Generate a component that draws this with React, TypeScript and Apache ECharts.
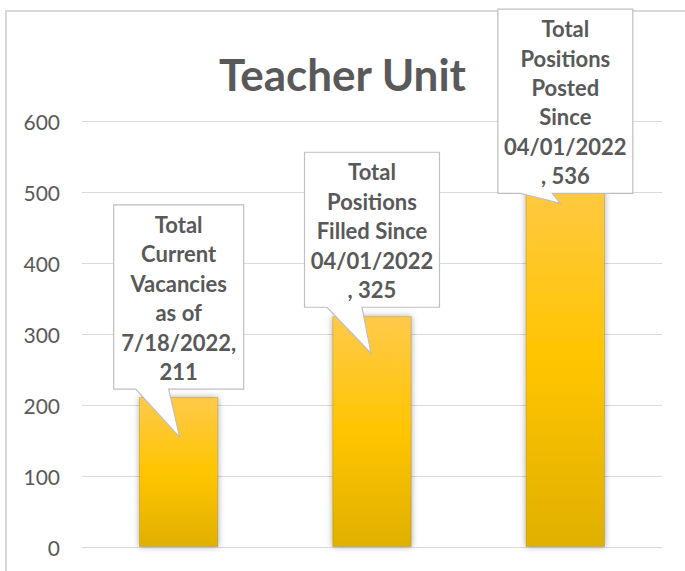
import React, { useEffect, useRef } from "react";
import * as echarts from "echarts";

const categories = [
  "Total\nCurrent\nVacancies\nas of\n7/18/2022",
  "Total\nPositions\nFilled Since\n04/01/2022",
  "Total\nPositions\nPosted\nSince\n04/01/2022",
];
const values = [211, 325, 536];
const valueSeparators = [",\n", "\n, ", "\n, "];
const yMin = 0;
const yMax = 600;
const yInterval = 100;

// callout geometry relative to the bar's top-centre
const calloutLayout = [
  { w: 130, boxBottomDy: -8, tipDx: 1, tipDy: 40, baseL: -43, baseR: -10 },
  { w: 135, boxBottomDy: -9, tipDx: -1, tipDy: 37, baseL: -45, baseR: -10 },
  { w: 135, boxBottomDy: 27, tipDx: -5, tipDy: 37, baseL: -45, baseR: -13 },
];

const FONT = "Lato, 'Open Sans', sans-serif";
const TEXT_COLOR = "#595959";
const LINE_H = 29.4;

export default function App() {
  const ref = useRef<HTMLDivElement>(null);
  useEffect(() => {
    if (!ref.current) return;
    const chart = echarts.init(ref.current, null, { renderer: "svg" });
    const option: any = {
      animation: false,
      backgroundColor: "#ffffff",
      title: {
        text: "Teacher Unit",
        left: "center",
        top: 47,
        textStyle: {
          fontFamily: FONT,
          fontSize: 44,
          fontWeight: "bold",
          color: TEXT_COLOR,
        },
      },
      graphic: [
        {
          type: "rect",
          z: -10,
          shape: { x: 6, y: 11, width: 720, height: 620 },
          style: { fill: "none", stroke: "#D9D9D9", lineWidth: 2 },
        },
      ],
      grid: { left: 82, right: 23, top: 121, bottom: 24 },
      xAxis: {
        type: "category",
        data: categories,
        axisLine: { lineStyle: { color: "#D9D9D9", width: 1 } },
        axisTick: { show: false },
        axisLabel: { show: false },
      },
      yAxis: {
        type: "value",
        min: yMin,
        max: yMax,
        interval: yInterval,
        axisLine: { show: false },
        axisTick: { show: false },
        axisLabel: {
          color: TEXT_COLOR,
          fontSize: 21,
          fontFamily: FONT,
          margin: 22,
        },
        splitLine: { lineStyle: { color: "#D9D9D9", width: 1 } },
      },
      series: [
        {
          type: "bar",
          data: values,
          barWidth: "41%",
          itemStyle: {
            color: new echarts.graphic.LinearGradient(0, 0, 0, 1, [
              { offset: 0, color: "#FFC94A" },
              { offset: 0.5, color: "#FFC500" },
              { offset: 1, color: "#E0B000" },
            ]),
            borderColor: "rgba(150,130,60,0.5)",
            borderWidth: 0.8,
            shadowBlur: 6,
            shadowColor: "rgba(0,0,0,0.35)",
            shadowOffsetX: 0,
            shadowOffsetY: 0,
          },
          z: 2,
        },
        {
          type: "custom",
          coordinateSystem: "cartesian2d",
          data: values.map((v, i) => [i, v]),
          z: 10,
          clip: false,
          renderItem: (params: any, api: any) => {
            const i = params.dataIndex;
            const pt = api.coord([api.value(0), api.value(1)]);
            const cx = pt[0];
            const ty = pt[1];
            const L = calloutLayout[i];
            const text = categories[i] + valueSeparators[i] + values[i];
            const lines = text.split("\n").length;
            const h = lines * LINE_H + 8;
            const bottom = ty + L.boxBottomDy;
            const top = bottom - h;
            const left = cx - L.w / 2;
            const right = cx + L.w / 2;
            return {
              type: "group",
              children: [
                {
                  type: "polygon",
                  shape: {
                    points: [
                      [left, top],
                      [right, top],
                      [right, bottom],
                      [cx + L.baseR, bottom],
                      [cx + L.tipDx, ty + L.tipDy],
                      [cx + L.baseL, bottom],
                      [left, bottom],
                    ],
                  },
                  style: { fill: "#ffffff", stroke: "#BFBFBF", lineWidth: 1.2 },
                },
                {
                  type: "text",
                  x: cx,
                  y: (top + bottom) / 2 + 1,
                  style: {
                    text,
                    align: "center",
                    verticalAlign: "middle",
                    fill: TEXT_COLOR,
                    fontSize: 22,
                    fontWeight: "bold",
                    fontFamily: FONT,
                    lineHeight: LINE_H,
                  },
                },
              ],
            };
          },
        },
      ],
    };
    chart.setOption(option);
    return () => chart.dispose();
  }, []);
  return (
    <div
      ref={ref}
      style={{ position: "absolute", left: 0, top: 0, width: 685, height: 571 }}
    />
  );
}
